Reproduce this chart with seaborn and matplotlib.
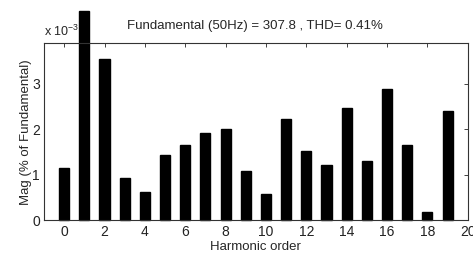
import numpy as np
import pandas as pd
import matplotlib
matplotlib.use('Agg')
import matplotlib.pyplot as plt
import seaborn as sns

sns.set_style('white')
plt.rcParams['font.family'] = ['Liberation Sans', 'DejaVu Sans']
plt.rcParams['mathtext.fontset'] = 'custom'
plt.rcParams['mathtext.rm'] = 'Liberation Sans'
fs = 9.5

# harmonic magnitudes, in units of 1e-3 (% of fundamental)
orders = list(range(20))
mags = [1.16, 4.60, 3.53, 0.94, 0.62, 1.44, 1.66, 1.91, 2.00, 1.09,
        0.57, 2.22, 1.52, 1.22, 2.47, 1.30, 2.88, 1.66, 0.19, 2.39]
title = 'Fundamental (50Hz) = 307.8 , THD= 0.41%'

df = pd.DataFrame({'order': orders, 'mag': mags})

fig = plt.figure(figsize=(4.73, 2.59), dpi=100)
ax = fig.add_axes([0.093, 0.149, 0.896, 0.685])

sns.barplot(data=df, x='order', y='mag', native_scale=True, width=0.5,
            color='black', edgecolor='black', saturation=1, ax=ax)
# the tall 2nd harmonic pokes out above the frame, as in the original
for p in ax.patches:
    p.set_clip_on(False)

ax.set_xlim(-1, 20)
ax.set_ylim(0, 3.89)
ax.set_xticks(range(0, 21, 2))
ax.set_yticks([0, 1, 2, 3])
ax.tick_params(direction='in', length=3, width=0.6, top=True, right=True,
               labelsize=10, colors='#222222', pad=3)
for s in ax.spines.values():
    s.set_linewidth(0.8)
    s.set_color('#333333')

ax.set_xlabel('Harmonic order', fontsize=fs, labelpad=2)
ax.set_ylabel('Mag (% of Fundamental)', fontsize=fs, labelpad=0)
ax.text(0.0, 1.02, r'x 10$^{-3}$', transform=ax.transAxes, fontsize=fs - 0.5,
        ha='left', va='bottom')
fig.text(0.54, 0.9, title, fontsize=fs, ha='center', va='center')

fig.savefig('out.png', dpi=100)
